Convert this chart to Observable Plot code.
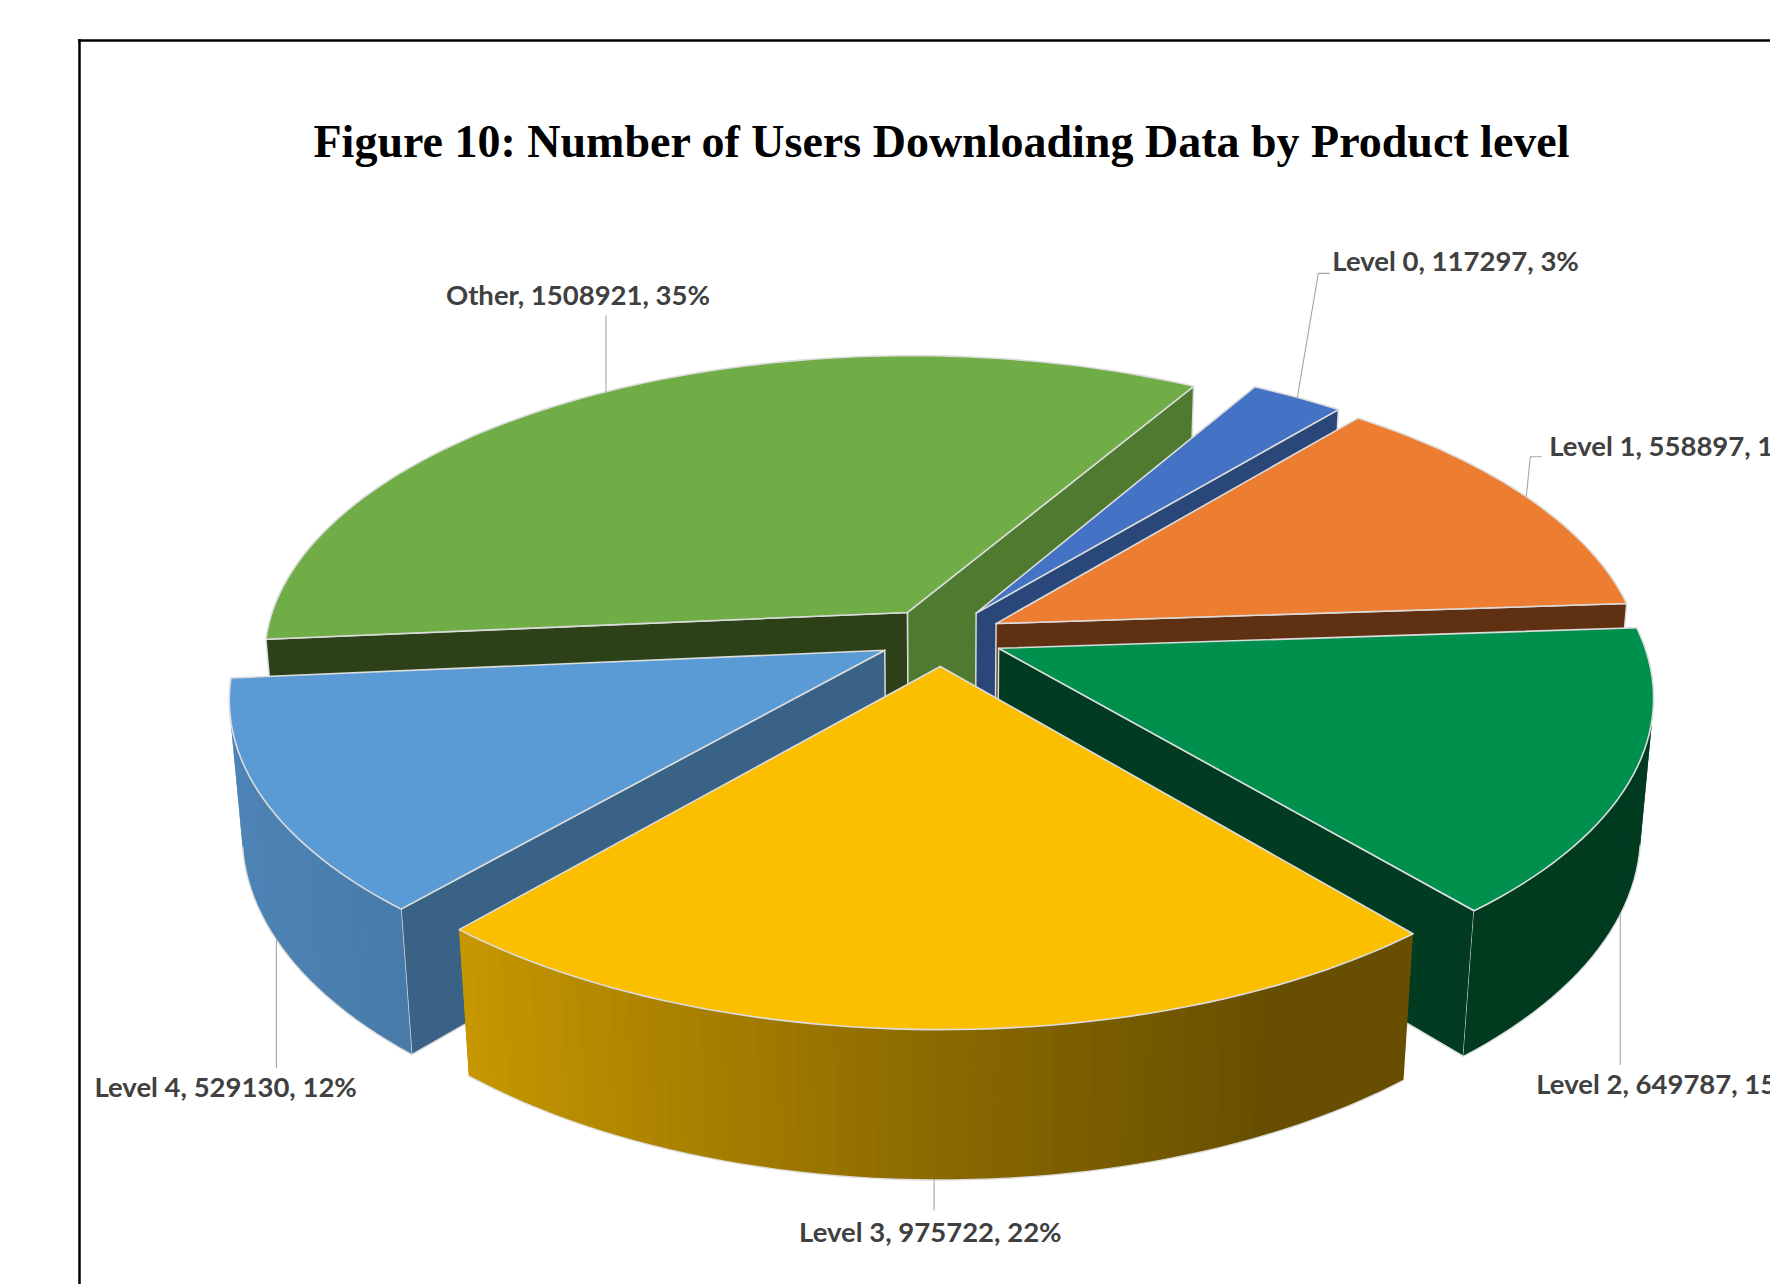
<!DOCTYPE html>
<html>
<head>
<meta charset="utf-8">
<script src="https://cdn.jsdelivr.net/npm/d3@7"></script>
<script src="https://cdn.jsdelivr.net/npm/@observablehq/plot@0.6"></script>
<style>html,body{margin:0;padding:0;background:#fff;overflow:hidden}svg{display:block;background:#fff}</style>
</head>
<body>
<div id="chart"></div>
<script>
// ---- data ----
const categories = ["Level 0", "Level 1", "Level 2", "Level 3", "Level 4", "Other"];
const users = [117297, 558897, 649787, 975722, 529130, 1508921];
const percents = [3, 13, 15, 22, 12, 35];
const titleText = "Figure 10: Number of Users Downloading Data by Product level";

// ---- styles ----
const topColors = ["#4472C4", "#ED7D31", "#00904E", "#FBBF00", "#5B9BD5", "#70AD47"];
const startWallColors = ["#2a4779", "#5f3012", "#003b22", "#664c00", "#3a6186", "#2d4119"];
const endWallColors = ["#2a4779", "#5f3012", "#003b22", "#664c00", "#3a6186", "#507a30"];
const paintOrder = [5, 0, 1, 2, 4, 3];
const edgeColor = "#dcdcdc";

// ---- layout of the 3D camera ----
const W = 1770, H = 1284;
const cam = {cx: 940.3, cy: 636.3, a: 643, b: 300.8, c: 136.1, k: 0.1457, q: 0.018};
const firstSliceAngle = 30, explode = 0.0972;
const rimBottom = [false, false, true, true, true, false];
// label placement: leader elbow offsets from the rim anchor, then text start
const leaderOffsets = [
  [[21, -124], [32, -124]],
  [[4, -40], [15, -40]],
  [[0, 150]],
  [[0, 30]],
  [[0, 128]],
  [[0, -76]]
];
const labelOffsets = [[35, -135], [23, -50], [-84, 171], [-135, 53], [-182, 148], [-160, -96]];

// ---- geometry derived from values ----
const rad = d => d * Math.PI / 180;
function proj(X, Y, bottom) {
  const w = 1 - cam.k * Y + (bottom ? cam.q : 0);
  return [cam.cx + cam.a * X / w, cam.cy + (cam.b * Y + (bottom ? cam.c : 0)) / w];
}
const area = pts => d3.sum(pts, (p, i) => {
  const q = pts[(i + 1) % pts.length];
  return p[0] * q[1] - q[0] * p[1];
});
const total = d3.sum(users);
let acc = firstSliceAngle;
const slices = users.map((v, i) => {
  const t0 = acc, t1 = acc + v / total * 360;
  acc = t1;
  const mid = (t0 + t1) / 2;
  return {i, t0, t1, mid, ox: explode * Math.sin(rad(mid)), oy: -explode * Math.cos(rad(mid))};
});
const rimPt = (s, t) => [s.ox + Math.sin(rad(t)), s.oy - Math.cos(rad(t))];
const shadeStops = d3.scaleLinear().domain([-1, -0.65, 0, 0.45, 1]).range([0.86, 0.79, 0.55, 0.41, 0.41]);
function shade(hex, t) {
  const f = shadeStops(Math.sin(rad(t))), c = d3.rgb(hex);
  return d3.rgb(c.r * f, c.g * f, c.b * f).formatHex();
}

const polys = [];
const addPoly = (pts, fill, stroke, sw) => polys.push({pts, fill, stroke, sw});
for (const idx of paintOrder) {
  const s = slices[idx];
  const apex = [s.ox, s.oy];
  // radial walls, only when they face the viewer
  const radial = (t, col, sign) => {
    const r = rimPt(s, t);
    const pts = [proj(...apex, false), proj(...r, false), proj(...r, true), proj(...apex, true)];
    if (area(pts) * sign > 0) addPoly(pts, col, edgeColor, 1.5);
  };
  radial(s.t0, startWallColors[idx], -1);
  radial(s.t1, endWallColors[idx], 1);
  const n = Math.ceil((s.t1 - s.t0) / 1.5);
  const steps = d3.range(n + 1).map(j => s.t0 + (s.t1 - s.t0) * j / n);
  // outer wall: each strip reaches under the next one so no seams show
  let runs = [], run = null;
  for (let j = 0; j < n; j++) {
    const p = rimPt(s, steps[j]), q = rimPt(s, steps[j + 1]);
    const quad = [proj(...p, false), proj(...q, false), proj(...q, true), proj(...p, true)];
    if (area(quad) < 0) {
      if (!run) { run = [j]; runs.push(run); }
      run[1] = j + 1;
    } else run = null;
  }
  for (const [j0, j1] of runs) {
    for (let j = j0; j < j1; j++) {
      const p = rimPt(s, steps[j]), q = rimPt(s, steps[Math.min(j + 2, j1)]);
      const col = shade(topColors[idx], steps[j] + 0.75);
      addPoly([proj(...p, false), proj(...q, false), proj(...q, true), proj(...p, true)], col, "none", 0);
    }
    addPoly(steps.slice(j0, j1 + 1).map(t => proj(...rimPt(s, t), true)), "none", edgeColor, 1.4);
  }
  // top face
  addPoly([proj(...apex, false), ...steps.map(t => proj(...rimPt(s, t), false))], topColors[idx], edgeColor, 1.6);
}
const rows = polys.flatMap((p, id) => {
  const closed = p.fill === "none" ? p.pts : [...p.pts, p.pts[0]];
  return closed.map(([x, y]) => ({id, x, y, fill: p.fill, stroke: p.stroke, sw: p.sw}));
});

// leaders and labels
const anchors = slices.map(s => proj(...rimPt(s, s.mid), rimBottom[s.i]));
const leaderRows = anchors.flatMap((a, i) => [
  {id: i, x: a[0], y: a[1]},
  ...leaderOffsets[i].map(o => ({id: i, x: a[0] + o[0], y: a[1] + o[1]}))
]);
const labels = categories.map((c, i) => ({
  text: `${c}, ${users[i]}, ${percents[i]}%`,
  x: anchors[i][0] + labelOffsets[i][0],
  y: anchors[i][1] + labelOffsets[i][1]
}));

const chart = Plot.plot({
  width: W, height: H,
  marginTop: 0, marginRight: 0, marginBottom: 0, marginLeft: 0,
  x: {domain: [0, W], range: [0, W], axis: null},
  y: {domain: [0, H], range: [0, H], axis: null},
  color: {type: "identity"},
  marks: [
    Plot.ruleX([79], {y1: 39, y2: H, stroke: "#000", strokeWidth: 2.5}),
    Plot.ruleY([40], {x1: 78, x2: W, stroke: "#000", strokeWidth: 2.5}),
    Plot.text([titleText], {
      x: 941, y: 142, text: d => d, fontFamily: "Liberation Serif", fontWeight: "bold",
      fontSize: 46, fill: "#000", lineAnchor: "middle", textAnchor: "middle"
    }),
    Plot.line(rows, {
      x: "x", y: "y", z: "id", fill: d => d.fill, stroke: d => d.stroke,
      strokeWidth: d => d.sw, curve: "linear", strokeLinejoin: "round"
    }),
    Plot.line(leaderRows, {x: "x", y: "y", z: "id", stroke: "#a6a6a6", strokeWidth: 1.1}),
    Plot.text(labels, {
      x: "x", y: "y", text: "text", fontFamily: "Lato", fontWeight: "bold", fontSize: 27.5,
      fill: "#404040", textAnchor: "start", lineAnchor: "middle"
    })
  ]
});
document.getElementById("chart").append(chart);
</script>
</body>
</html>
